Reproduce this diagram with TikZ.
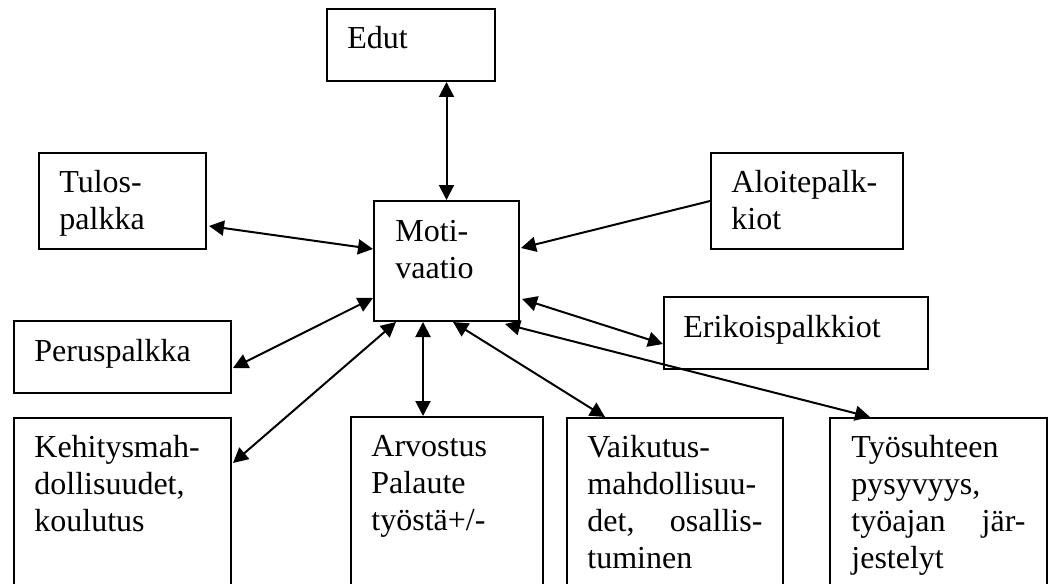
\documentclass[tikz,border=0pt]{standalone}
\usepackage{fontspec}
\setmainfont{Liberation Serif}
\usetikzlibrary{arrows.meta,calc}

\tikzset{
    laatikko/.style 2 args={draw, line width=1pt, anchor=north west, inner sep=0pt,
        minimum width=#1*0.5pt, minimum height=#2*0.5pt},
    teksti/.style={anchor=base west, inner sep=0pt, align=left, text width=120pt,
        font=\fontsize{16}{18.5}\selectfont},
    nuoli/.style={line width=1pt, -{Triangle[length=7.5pt,width=7.5pt]}},
    nuolet/.style={line width=1pt, {Triangle[length=7.5pt,width=7.5pt]}-{Triangle[length=7.5pt,width=7.5pt]}}
}

\begin{document}
\begin{tikzpicture}[x=0.5pt, y=-0.5pt]
        \useasboundingbox (0,0) rectangle (1053,583);
        \clip (0,0) rectangle (1053,583);
        % laatikot
        \node[laatikko={168}{72}] (edut) at (326,8) {};
        \node[laatikko={167}{96}] (tulos) at (38,152) {};
        \node[laatikko={145}{120}] (moti) at (373,200) {};
        \node[laatikko={192}{96}] (aloite) at (710,152) {};
        \node[laatikko={264}{72}] (erikois) at (663,296) {};
        \node[laatikko={217}{72}] (perus) at (13,320) {};
        \node[laatikko={217}{220}] (kehitys) at (13,417) {};
        \node[laatikko={192}{220}] (arvostus) at (350,416) {};
        \node[laatikko={216}{220}] (vaikutus) at (566,417) {};
        \node[laatikko={217}{220}] (tyosuhde) at (829,417) {};
        % tekstit
        \node[teksti] (edut-t) at (347,49) {Edut};
        \node[teksti] (tulos-t) at (59,192) {Tulos-\\palkka};
        \node[teksti] (moti-t) at (395,241) {Moti-\\vaatio};
        \node[teksti] (aloite-t) at (731,192) {Aloitepalk-\\kiot};
        \node[teksti] (erikois-t) at (683,337) {Erikoispalkkiot};
        \node[teksti] (perus-t) at (34,361) {Peruspalkka};
        \node[teksti] (kehitys-t) at (34,457) {Kehitysmah-\\dollisuudet,\\koulutus};
        \node[teksti] (arvostus-t) at (371,456) {Arvostus\\Palaute\\työstä+/-};
        \node[teksti, text width=87.5pt] (vaikutus-t) at (587,457)
            {Vaikutus-\\mahdollisuu-\\det,\hfill osallis-\\tuminen};
        \node[teksti, text width=87pt] (tyosuhde-t) at (851,457)
            {Työsuhteen\\pysyvyys,\\työajan\hfill jär-\\jestelyt};
        % nuolet
        \draw[nuolet] (moti.north) -- (moti.north |- edut.south);
        \draw[nuolet] ($(tulos.east)+(2,25)$) -- ($(moti.west)+(0,-12)$);
        \draw[nuoli] (aloite.west) -- ($(moti.east)+(1,-13)$);
        \draw[nuolet] ($(moti.east)+(2,38)$) -- ($(erikois.west)+(0,11)$);
        \draw[nuolet] ($(perus.east)+(1,11)$) -- ($(moti.west)+(0,37)$);
        \draw[nuolet] ($(kehitys.north east)+(1,46)$) -- ($(moti.south west)+(23,0)$);
        \draw[nuolet] ($(moti.south west)+(50,0)$) -- ($(arvostus.north west)+(73,0)$);
        \draw[nuolet] ($(moti.south west)+(80,0)$) -- ($(vaikutus.north west)+(39,0)$);
        \draw[nuolet] ($(moti.south east)+(-15,2)$) -- ($(tyosuhde.north west)+(41,0)$);
\end{tikzpicture}
\end{document}
